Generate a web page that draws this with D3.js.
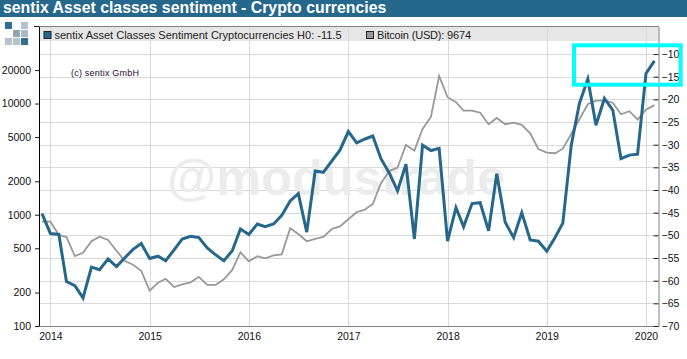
<!DOCTYPE html>
<html>
<head>
<meta charset="utf-8">
<script src="https://cdnjs.cloudflare.com/ajax/libs/d3/7.8.5/d3.min.js"></script>
<style>
html, body { margin: 0; padding: 0; background: #fff; }
text { font-family: "Liberation Sans", Arial, sans-serif; }
</style>
</head>
<body>
<div id="chart"></div>
<script>
// first month of both series, then one value per month
var startMonth = "2013-12-01";

// sentiment, right axis
var sentiment = [-45.2,-49.6,-49.8,-60.2,-61.1,-63.8,-57.0,-57.6,-55.2,-56.9,-55.0,-53.1,
    -51.8,-55.1,-54.6,-55.6,-53.2,-50.8,-50.2,-50.5,-52.8,-54.3,-55.6,-53.4,
    -48.6,-49.8,-47.5,-48.1,-47.5,-45.6,-42.4,-40.8,-49.3,-35.8,-36.1,-33.6,
    -31.2,-27.1,-29.6,-28.8,-28.1,-33.1,-36.3,-40.2,-34.3,-50.8,-30.1,-31.3,
    -30.8,-51.3,-43.9,-48.1,-43.0,-42.8,-49.0,-36.4,-47.1,-50.5,-45.0,-51.0,
    -51.3,-53.5,-50.4,-47.3,-30.1,-20.9,-15.5,-25.7,-19.8,-22.4,-33.1,-32.3,
    -32.1,-14.3,-11.5];

// bitcoin in USD, left axis
var bitcoin = [867,867,658,631,426,456,578,635,593,475,386,356,
    314,208,245,266,224,237,247,277,234,234,263,319,
    460,382,424,406,432,441,756,672,578,606,633,745,
    785,911,1060,1105,1250,1920,2477,2652,4242,3770,5910,7625,
    17700,11400,10280,8630,8630,8280,6515,7425,6515,6735,6425,5408,
    3905,3617,3573,3930,5330,7225,9860,10620,10620,10185,8010,8530,
    7170,8815,9674];

var leftTicks = [100,200,500,1000,2000,5000,10000,20000];
var rightTicks = [-10,-15,-20,-25,-30,-35,-40,-45,-50,-55,-60,-65,-70];
var yearTicks = [2014,2015,2016,2017,2018,2019,2020];

var titleText = "sentix Asset classes sentiment - Crypto currencies";
var legendSentiment = "sentix Asset Classes Sentiment Cryptocurrencies H0: -11.5";
var legendBitcoin = "Bitcoin (USD): 9674";
var copyrightText = "(c) sentix GmbH";
var watermark = "@modustrade";

var blue = "#25688c", gray = "#999999", grid = "#d9d9d9";

var W = 687, H = 359;
var margin = {top: 26.5, right: 28.5, bottom: 33, left: 39};

var svg = d3.select("#chart").append("svg")
    .attr("width", W)
    .attr("height", H)
    .style("display", "block");

var first = d3.timeParse("%Y-%m-%d")(startMonth);
var months = sentiment.map(function(d, i){ return d3.timeMonth.offset(first, i); });

var x = d3.scaleTime()
    .domain([new Date(2013, 10, 20), new Date(2020, 1, 16)])
    .range([margin.left, W - margin.right]);
var yLeft = d3.scaleLog()
    .domain([100, 49300])
    .range([H - margin.bottom, margin.top]);
var yRight = d3.scaleLinear()
    .domain([-70, -3.93])
    .range([H - margin.bottom, margin.top]);

// title bar
svg.append("rect").attr("x", 0).attr("y", 0).attr("width", W).attr("height", 17).attr("fill", blue);
svg.append("text").attr("x", 3).attr("y", 13)
    .attr("fill", "#fff").attr("font-size", 15.85).attr("font-weight", "bold")
    .text(titleText);

// legend band
svg.append("rect").attr("x", margin.left).attr("y", margin.top)
    .attr("width", W - margin.left - margin.right).attr("height", 14.5).attr("fill", "#e6e6e6");

// grid
svg.append("g").selectAll("line").data(rightTicks.slice(0, -1)).enter().append("line")
    .attr("x1", margin.left).attr("x2", W - margin.right)
    .attr("y1", function(d){ return Math.round(yRight(d)) + 0.5; })
    .attr("y2", function(d){ return Math.round(yRight(d)) + 0.5; })
    .attr("stroke", grid);
svg.append("g").selectAll("line").data(yearTicks).enter().append("line")
    .attr("x1", function(d){ return Math.round(x(new Date(d, 0, 1))) + 0.5; })
    .attr("x2", function(d){ return Math.round(x(new Date(d, 0, 1))) + 0.5; })
    .attr("y1", margin.top).attr("y2", H - margin.bottom)
    .attr("stroke", grid);

// watermark
svg.append("text").attr("x", 167).attr("y", 195)
    .attr("fill", "#ececec").attr("font-size", 50.5).attr("font-weight", "bold")
    .text(watermark);

svg.append("text").attr("x", 71).attr("y", 75.5)
    .attr("fill", "#2a0a3a").attr("font-size", 9).attr("textLength", 68).attr("lengthAdjust", "spacing")
    .text(copyrightText);

// lines
var lineBitcoin = d3.line()
    .x(function(d, i){ return x(months[i]); })
    .y(function(d){ return yLeft(d); });
var lineSentiment = d3.line()
    .x(function(d, i){ return x(months[i]); })
    .y(function(d){ return yRight(d); });

svg.append("path").datum(bitcoin).attr("d", lineBitcoin)
    .attr("fill", "none").attr("stroke", gray).attr("stroke-width", 1.8);
svg.append("path").datum(sentiment).attr("d", lineSentiment)
    .attr("fill", "none").attr("stroke", blue).attr("stroke-width", 3);

// axes
var xAxis = d3.axisBottom(x)
    .tickValues(yearTicks.map(function(d){ return new Date(d, 0, 1); }))
    .tickFormat(d3.timeFormat("%Y")).tickSize(0).tickPadding(6.5);
var leftAxis = d3.axisLeft(yLeft)
    .tickValues(leftTicks).tickFormat(d3.format("d"))
    .tickSizeInner(4).tickSizeOuter(0).tickPadding(4);
var rightAxis = d3.axisRight(yRight)
    .tickValues(rightTicks).tickSizeInner(-5).tickSizeOuter(0).tickPadding(3);

var gx = svg.append("g").attr("class", "axis").attr("transform", "translate(0," + (H - margin.bottom) + ")").call(xAxis);
var gl = svg.append("g").attr("class", "axis").attr("transform", "translate(" + margin.left + ",0)").call(leftAxis);
var gr = svg.append("g").attr("class", "axis").attr("transform", "translate(" + (W - margin.right) + ",0)").call(rightAxis);

svg.selectAll(".axis text").attr("font-size", 10.5).attr("font-family", "Liberation Sans").attr("fill", "#111");
svg.selectAll(".axis .tick line").attr("stroke", "#222");
gx.select(".domain").attr("stroke", "#808080");
gr.select(".domain").attr("stroke", "#808080");
gl.select(".domain").attr("stroke", "#000");

// top edge, sticks out to the left like a tick
svg.append("line").attr("x1", 34).attr("x2", 39.5).attr("y1", 26.5).attr("y2", 26.5).attr("stroke", "#222");
svg.append("line").attr("x1", 39.5).attr("x2", W - margin.right + 0.5).attr("y1", 26.5).attr("y2", 26.5).attr("stroke", "#808080");

// legend
function legendItem(xPos, color, label, textWidth){
    svg.append("rect").attr("x", xPos + 0.5).attr("y", 31.5).attr("width", 7).attr("height", 7)
        .attr("fill", color).attr("stroke", "#222");
    svg.append("text").attr("x", xPos + 11).attr("y", 38.5)
        .attr("font-size", 11).attr("fill", "#222")
        .attr("textLength", textWidth).attr("lengthAdjust", "spacing")
        .text(label);
}
legendItem(43.5, blue, legendSentiment, 287);
legendItem(366, gray, legendBitcoin, 94);

// logo squares
var logoCells = [[0,0,"#2f6f94"],[2,0,"#b4c4cc"],[1,1,"#8ea6b3"],[2,1,"#a9bac3"],
    [0,2,"#b4c4cc"],[1,2,"#b4c4cc"],[2,2,"#2f6f94"]];
svg.append("g").selectAll("rect").data(logoCells).enter().append("rect")
    .attr("x", function(d){ return 5 + d[0] * 8; })
    .attr("y", function(d){ return 22 + d[1] * 8; })
    .attr("width", 7).attr("height", 7)
    .attr("fill", function(d){ return d[2]; });

// cyan box added on the picture
svg.append("rect").attr("x", 574).attr("y", 45.3).attr("width", 106.7).attr("height", 39.4)
    .attr("fill", "none").attr("stroke", "#00ffff").attr("stroke-width", 4);
</script>
</body>
</html>
